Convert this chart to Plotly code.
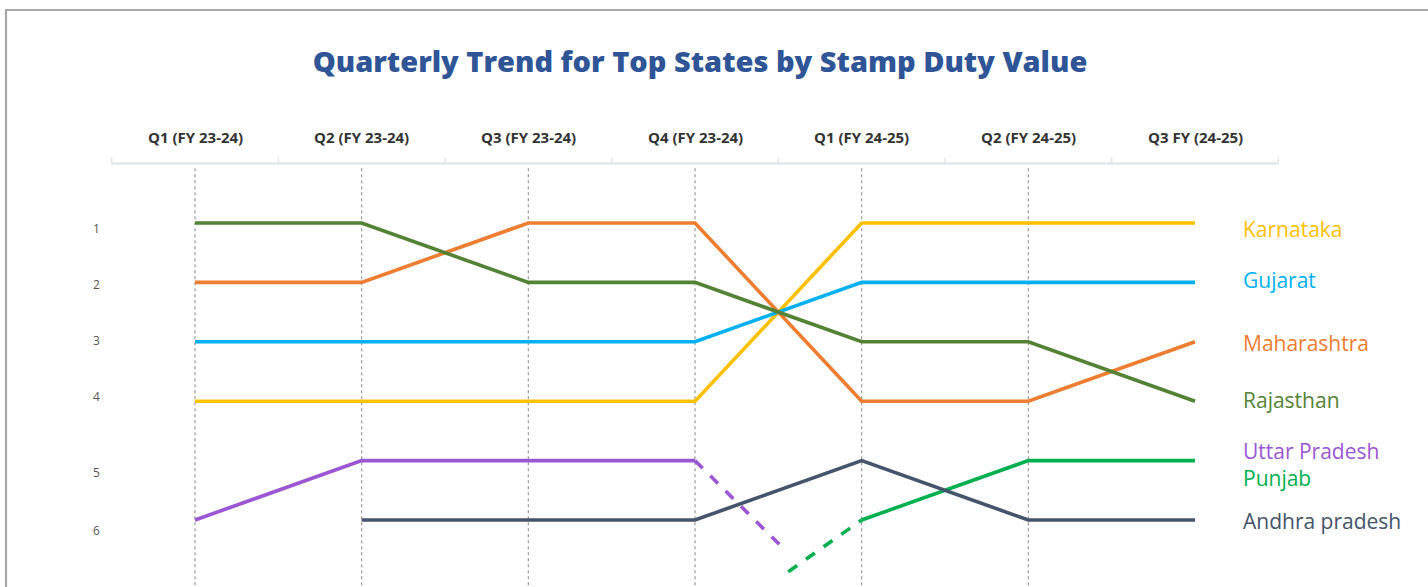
import plotly.graph_objects as go

# ---------------- data ----------------
quarters = ["Q1 (FY 23-24)", "Q2 (FY 23-24)", "Q3 (FY 23-24)", "Q4 (FY 23-24)",
            "Q1 (FY 24-25)", "Q2 (FY 24-25)", "Q3 FY (24-25)"]
rank_values = [1, 2, 3, 4, 5, 6]
rank_labels = ["1", "2", "3", "4", "5", "6"]

states = ["Karnataka", "Gujarat", "Maharashtra", "Rajasthan",
          "Uttar Pradesh", "Punjab", "Andhra pradesh"]
karnataka = [4, 4, 4, 4, 1, 1, 1]
gujarat = [3, 3, 3, 3, 2, 2, 2]
maharashtra = [2, 2, 1, 1, 4, 4, 3]
rajasthan = [1, 1, 2, 2, 3, 3, 4]
uttar_pradesh = [6, 5, 5, 5, None, None, None]
punjab = [None, None, None, None, 6, 5, 5]
andhra_pradesh = [None, 6, 6, 6, 5, 6, 6]

# dashed exit / entry trails (quarter index, rank)
up_exit_x = [3, 3.52]
up_exit_rank = [5, 6.45]
punjab_entry_x = [3.56, 4]
punjab_entry_rank = [6.87, 6]

# ---------------- styles ----------------
series = [karnataka, gujarat, maharashtra, rajasthan, uttar_pradesh, punjab, andhra_pradesh]
colors = ["#FFC000", "#00B0F0", "#ED7D31", "#548235", "#9B57D3", "#00B050", "#44546A"]
label_yshift = [-6, 2, -1, 1, 0, 0, -1]
ytick_yshift = [-5, -2, 1, 5, -12, -10]

W, H = 1428, 587
x_idx = list(range(len(quarters)))

# pixel mapping: quarter 0 -> 195px, quarter 6 -> 1195px; rank 1 -> 223px, rank 6 -> 520px
px_per_q = (1195 - 195) / 6
px_per_rank = (520 - 223) / 5
x_range = [-195 / px_per_q, (W - 195) / px_per_q]
y_range = [1 + (H - 223) / px_per_rank, 1 - 223 / px_per_rank]

fig = go.Figure()

for name, vals, col in zip(states, series, colors):
    fig.add_trace(go.Scatter(x=x_idx, y=vals, mode="lines", name=name,
                             line=dict(color=col, width=3.6), connectgaps=False,
                             showlegend=False, hoverinfo="skip"))

fig.add_trace(go.Scatter(x=up_exit_x, y=up_exit_rank, mode="lines",
                         line=dict(color=colors[4], width=3.6, dash="dash"),
                         showlegend=False, hoverinfo="skip"))
fig.add_trace(go.Scatter(x=punjab_entry_x, y=punjab_entry_rank, mode="lines",
                         line=dict(color=colors[5], width=3.6, dash="dash"),
                         showlegend=False, hoverinfo="skip"))

shapes = []
# dotted vertical guides
for i in x_idx[:-1]:
    shapes.append(dict(type="line", xref="x", yref="y", x0=i, x1=i, y0=0.08, y1=y_range[0],
                       line=dict(color="#9a9a9a", width=1.2, dash="dot"), layer="below"))
# header bracket
shapes.append(dict(type="line", xref="x", yref="y", x0=-0.5, x1=len(quarters) - 0.5, y0=0, y1=0,
                   line=dict(color="#e2e7ee", width=2.5), layer="below"))
for i in range(len(quarters) + 1):
    shapes.append(dict(type="line", xref="x", yref="y", x0=i - 0.5, x1=i - 0.5, y0=0, y1=-0.1,
                       line=dict(color="#e2e7ee", width=1.5), layer="below"))
# outer frame
shapes.append(dict(type="rect", xref="paper", yref="paper", x0=6 / W, x1=1.02,
                   y0=-0.02, y1=1 - 10 / H, line=dict(color="#a8a8a8", width=2.2)))

annotations = []
for i, q in enumerate(quarters):
    annotations.append(dict(x=i, y=-0.45, xref="x", yref="y", text=q, showarrow=False,
                            font=dict(family="Open Sans", size=15, color="#333333", weight=700)))
for r, lab, ys in zip(rank_values, rank_labels, ytick_yshift):
    annotations.append(dict(x=-0.59, y=r, xref="x", yref="y", text=lab, showarrow=False,
                            yshift=ys, font=dict(family="Open Sans", size=12, color="#555555")))

# end labels; Uttar Pradesh (exits) and Punjab (enters) share the rank-5 slot as one stacked label
label_font = dict(family="Open Sans", size=21)
for k in [0, 1, 2, 3, 6]:
    last = [v for v in series[k] if v is not None][-1]
    annotations.append(dict(x=x_idx[-1], y=last, xref="x", yref="y", text=states[k],
                            showarrow=False, xanchor="left", xshift=46, yshift=label_yshift[k],
                            font=dict(color=colors[k], **label_font)))
shared_rank = [v for v in punjab if v is not None][-1]
stacked = (f"<span style='color:{colors[4]}'>{states[4]}</span><br>"
           f"<span style='color:{colors[5]}'>{states[5]}</span>")
annotations.append(dict(x=x_idx[-1], y=shared_rank, xref="x", yref="y", text=stacked,
                        showarrow=False, xanchor="left", align="left", xshift=46, yshift=-4,
                        font=dict(color=colors[4], **label_font)))

fig.update_layout(
    width=W, height=H,
    margin=dict(l=0, r=0, t=0, b=0),
    paper_bgcolor="white", plot_bgcolor="white",
    title=dict(text="Quarterly Trend for Top States by Stamp Duty Value",
               x=700 / W, xanchor="center", y=1 - 62 / H, yanchor="middle",
               font=dict(family="Open Sans", size=29, color="#2F5597", weight=800)),
    xaxis=dict(range=x_range, visible=False, fixedrange=True),
    yaxis=dict(range=y_range, visible=False, fixedrange=True),
    shapes=shapes, annotations=annotations,
)

fig.write_html("out.html", config={"displayModeBar": False},
               post_script="document.body.style.margin='0';")
